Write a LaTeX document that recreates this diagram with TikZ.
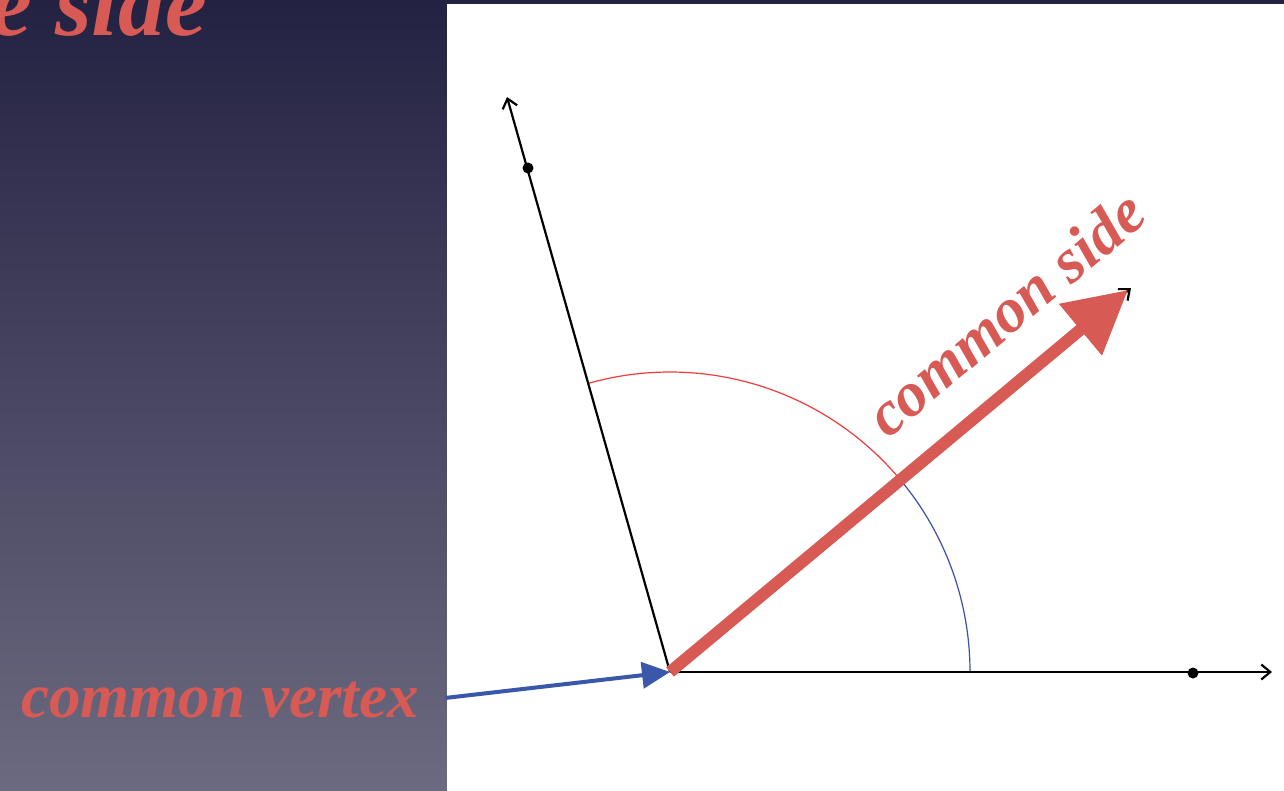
\documentclass[tikz,border=0pt]{standalone}
\usepackage{fontspec}
\setmainfont{Liberation Serif}
\usetikzlibrary{arrows.meta,positioning,calc}
\definecolor{slidered}{RGB}{216,90,85}
\definecolor{slideblue}{RGB}{58,88,170}
\definecolor{navytop}{RGB}{36,34,66}
\definecolor{navybot}{RGB}{108,106,128}
\definecolor{arcred}{RGB}{240,60,60}
\definecolor{arcblue}{RGB}{60,80,170}
\tikzset{
  ray/.style={line width=2.2pt, -{Straight Barb[length=9pt,width=15pt,line width=2.2pt]}},
  pt/.style={circle, fill=black, inner sep=0pt, minimum size=11pt},
  lbl/.style={text=slidered, font=\bfseries\itshape\fontsize{63}{63}\selectfont, inner sep=0pt},
  side/.style={draw=slidered, line width=12pt, -{Triangle[length=62pt,width=64pt]}},
  ptr/.style={draw=slideblue, line width=4pt, -{Triangle[length=28pt,width=26pt]}},
  arcline/.style={line width=1.2pt}
}
\begin{document}
\begin{tikzpicture}[x=1pt, y=-1pt]
\useasboundingbox (0,0) rectangle (1284,790);
% slide background
\shade[top color=navytop, bottom color=navybot] (0,0) rectangle (447,790);
\fill[navytop] (447,0) rectangle (1284,4);
\fill[white] (447,4) rectangle (1284,790);
\node[lbl, font=\bfseries\itshape\fontsize{94}{94}\selectfont, anchor=base east] (title) at (207,35) {e side};
% vertex and rays
\coordinate (O) at (670,672);
\coordinate (xend) at (1272,672);
\coordinate (yend) at (507,97);
\coordinate (cend) at (1131,288);
\draw[arcline, arcblue] ($(O)+(0:300pt)$) arc[start angle=0, end angle=40, radius=300pt];
\draw[arcline, arcred] ($(O)+(40:300pt)$) arc[start angle=40, end angle=105.8, radius=300pt];
\draw[ray] (O) -- (xend);
\draw[ray] (O) -- (yend);
\draw[ray] (O) -- (cend);
\draw[side] (O) -- ($(cend)+(-3,2)$);
\node[pt] (px) at (1193,673) {};
\node[pt] (py) at (528,168) {};
% labels
\node[lbl, rotate=40] (sidelbl) at (1005,313) {common side};
\node[lbl, anchor=base] (vtxlbl) at (220,717) {common vertex};
\coordinate (ptrstart) at (445,698);
\draw[ptr] (ptrstart) -- (O);
\end{tikzpicture}
\end{document}
